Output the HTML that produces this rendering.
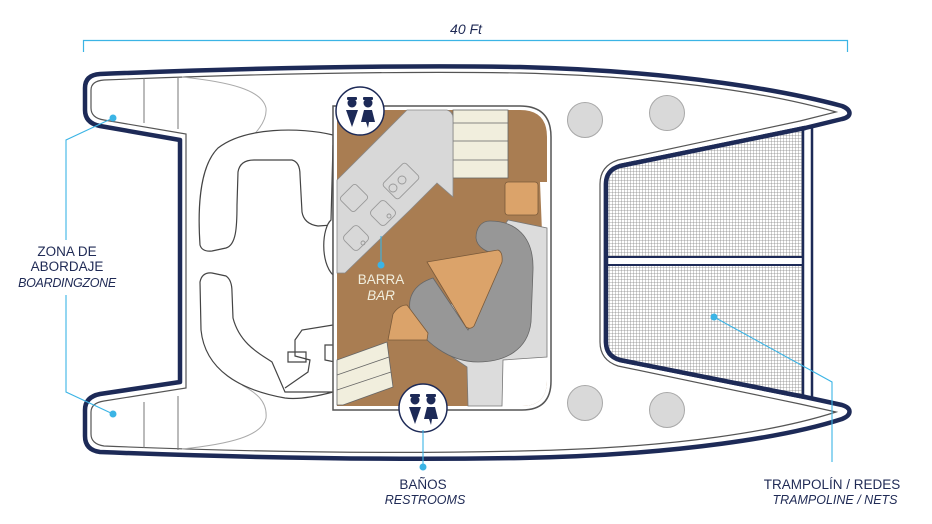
<!DOCTYPE html>
<html><head><meta charset="utf-8"><style>
html,body{margin:0;padding:0;background:#fff;}
svg{display:block;}
text{font-family:"Liberation Sans",sans-serif;}
</style></head><body>
<svg width="932" height="524" viewBox="0 0 932 524" xmlns="http://www.w3.org/2000/svg">
<defs>
<pattern id="mesh" width="3" height="3" patternUnits="userSpaceOnUse">
<rect width="3" height="3" fill="#fff"/>
<path d="M0 0H3M0 0V3" stroke="#888" stroke-width="0.8"/>
</pattern>
</defs>
<!-- dimension -->
<path d="M83.5 52V40.5H847.5V52" fill="none" stroke="#3bb4e5" stroke-width="1.2"/>
<text x="466" y="34" font-size="14" font-style="italic" fill="#1f2a55" text-anchor="middle">40 Ft</text>

<!-- hull outer -->
<path id="hull" d="M100 74 C250 68 390 65 520 67 C680 71 790 92 842 106 C852 110 852 117 842 119 L805 128 L620 166 Q606 170 606 184 L606 342 Q606 356 620 360 L805 397 L842 405 C852 408 852 415 842 419 C790 436 680 455 520 458 C390 460 250 458 100 452 Q85 450 85 436 L85 410 Q85 397 100 394 L180 382 L180 140 L100 126 Q85 123 85 110 L85 88 Q85 75 100 74 Z" fill="#fff" stroke="#1d2a57" stroke-width="4.5" stroke-linejoin="round"/>
<!-- hull inner gray -->
<path d="M104 80 C250 74 390 71 520 73 C680 77 780 96 836 112 L800 121 L618 160 Q600 166 600 184 L600 342 Q600 360 618 366 L800 404 L836 412 C780 430 680 448 520 451 C390 454 250 452 104 446 Q91 444 91 434 L91 412 Q91 403 104 401 L186 388 L186 134 L104 120 Q91 118 91 108 L91 90 Q91 81 104 80 Z" fill="none" stroke="#555" stroke-width="1.2"/>
<!-- lobe lines -->
<path d="M144 78V123M178 77V129M144 402V448M178 396V450" stroke="#777" stroke-width="1"/>
<!-- cockpit light lines -->
<path d="M182 77 C230 82 262 90 266 108 C268 128 240 150 212 165" fill="none" stroke="#aaa" stroke-width="1"/>
<path d="M182 449 C230 444 262 436 266 418 C268 398 250 390 242 385" fill="none" stroke="#aaa" stroke-width="1"/>

<!-- trampoline -->
<path d="M620 166 L803 128 L803 397 L620 360 Q606 356 606 342 L606 184 Q606 170 620 166 Z" fill="url(#mesh)"/>
<rect x="607" y="257" width="196" height="8" fill="#fff" stroke="#1d2a57" stroke-width="2"/>
<path d="M803 128V397M812 127V399" stroke="#1d2a57" stroke-width="2.5"/>
<path d="M805 128 L620 166 Q606 170 606 184 L606 342 Q606 356 620 360 L805 397" fill="none" stroke="#1d2a57" stroke-width="4.5" stroke-linejoin="round"/>

<!-- circles -->
<g fill="#d9d9d9" stroke="#a8a8a8" stroke-width="1">
<circle cx="585" cy="120" r="17.5"/><circle cx="667" cy="113" r="17.5"/>
<circle cx="585" cy="403" r="17.5"/><circle cx="667" cy="410" r="17.5"/>
</g>

<!-- cockpit seating -->
<g fill="#fff" stroke="#444" stroke-width="1.2">
<path d="M333 135 C300 127 245 127 218 148 C198 168 198 215 200 245 Q202 252 212 251 L226 248 C236 245 237 228 237 205 L238 172 Q240 160 254 160 L292 160 Q300 162 300 175 L302 212 Q304 224 318 226 L333 225 Z"/>
<path d="M200 282 Q202 272 212 273 L226 276 Q232 280 232 292 L233 318 C240 345 262 355 272 362 L285 392 L333 392 C318 396 300 400 285 398 C240 390 205 370 201 330 Z"/>
<path d="M333 145 L331 220 C322 228 320 262 333 275 Z" fill="#fff"/>
<path d="M333 325 L302 330 L295 340 L295 356 L310 360 L308 372 L285 388 M288 352 L306 352 L306 362 L288 362 Z" fill="none"/>
<path d="M325 345 L335 345 L335 362 L325 360 Z"/>
</g>

<!-- cabin -->
<path d="M333 106 H520 Q551 106 551 137 V381 Q551 410 522 410 H333 Z" fill="#fff" stroke="#555" stroke-width="1.5"/>
<path d="M337 110 H520 Q547 110 547 137 V380 Q547 406 522 406 H337 Z" fill="#a97d52"/>
<rect x="453" y="110" width="55" height="68" fill="#f1eedd" stroke="#666" stroke-width="0.8"/>
<path d="M453 123H508M453 141H508M453 160H508" stroke="#666" stroke-width="0.8"/>
<path d="M540 182 H547 V380 Q547 406 522 406 H502 V360 L547 357 Z" fill="#fff"/>
<path d="M508 220 L547 228 L547 357 L503 360 L502 406 L468 406 L467 367 L427 340 Z" fill="#dcdcdc" stroke="#777" stroke-width="0.8"/>
<path d="M337 180 L407 110 L447 110 Q453 112 453 118 L453 197 L437 183 L410 210 L345 273 L337 273 Z" fill="#d8d8d8" stroke="#888" stroke-width="0.8"/>
<g fill="none" stroke="#999" stroke-width="0.9">
<rect x="343" y="188" width="22" height="20" rx="3" transform="rotate(-45 354 198)"/>
<rect x="373" y="203" width="20" height="20" rx="4" transform="rotate(-45 383 213)"/>
<rect x="346" y="228" width="20" height="20" rx="4" transform="rotate(-45 356 238)"/>
<rect x="385" y="170" width="32" height="22" rx="3" transform="rotate(-45 401 181)"/>
<circle cx="393" cy="188" r="4"/><circle cx="402" cy="180" r="4"/>
<circle cx="389" cy="216" r="2"/><circle cx="363" cy="243" r="2"/>
</g>
<rect x="505" y="182" width="33" height="33" rx="3" fill="#dba36a" stroke="#7a5a3a" stroke-width="0.8"/>
<path d="M490 221 C515 221 534 236 533 270 L531 322 C528 350 505 362 478 362 C450 362 422 342 412 318 C405 298 414 284 433 278 L468 330 L500 256 C487 252 477 248 476 238 C476 227 482 221 490 221 Z" fill="#979797" stroke="#666" stroke-width="0.8"/>
<path d="M427 262 L498 250 Q503 252 502 262 L474 326 Q470 330 466 327 Z" fill="#dba36a" stroke="#7a5a3a" stroke-width="0.8"/>
<path d="M388 340 L393 314 Q399 305 407 305 L428 333 L427 340 Z" fill="#dba36a" stroke="#7a5a3a" stroke-width="0.8"/>
<path d="M337 360 L387 342 L393 387 L343 405 L337 405 Z" fill="#f1eedd" stroke="#666" stroke-width="0.8"/>
<path d="M337 375 L389 357 M337 390 L391 372" stroke="#666" stroke-width="0.8"/>

<!-- restroom icons -->
<g>
<circle cx="360" cy="111" r="24" fill="#fff" stroke="#1d2a57" stroke-width="1.5"/>
<g fill="#1d2a57">
<circle cx="352" cy="103" r="4.5"/><rect x="347" y="97" width="10" height="3" rx="1"/>
<path d="M346 110 H358 L352 127 Z"/>
<circle cx="368" cy="103" r="4.5"/><rect x="363" y="97" width="10" height="3" rx="1"/>
<path d="M364 110 H372 L375 122 L369 122 L368 128 L366 122 L361 122 Z"/>
</g>
<circle cx="423" cy="408" r="24" fill="#fff" stroke="#1d2a57" stroke-width="1.5"/>
<g fill="#1d2a57">
<circle cx="415" cy="400" r="4.5"/><rect x="410" y="394" width="10" height="3" rx="1"/>
<path d="M409 407 H421 L415 424 Z"/>
<circle cx="431" cy="400" r="4.5"/><rect x="426" y="394" width="10" height="3" rx="1"/>
<path d="M427 407 H435 L438 419 L432 419 L431 425 L429 419 L424 419 Z"/>
</g>
</g>

<!-- callouts -->
<g stroke="#3bb4e5" stroke-width="1.1" fill="none">
<path d="M113 118 L66 140 V240 M66 295 V392 L113 414"/>
<path d="M381 236 V265"/>
<path d="M423 430 V467"/>
<path d="M714 317 L832 382 V462"/>
</g>
<g fill="#3bb4e5">
<circle cx="113" cy="118" r="3.5"/><circle cx="113" cy="414" r="3.5"/>
<circle cx="381" cy="265" r="3.5"/><circle cx="423" cy="467" r="3.5"/>
<circle cx="714" cy="317" r="3.5"/>
</g>

<g font-size="13.5" fill="#1f2a55" text-anchor="middle">
<text x="67" y="256">ZONA DE</text>
<text x="67" y="271">ABORDAJE</text>
<text x="67" y="287" font-style="italic" font-size="12.5" letter-spacing="-0.3">BOARDINGZONE</text>
<text x="423" y="489">BAÑOS</text>
<text x="425" y="504" font-style="italic" font-size="12.5">RESTROOMS</text>
<text x="832" y="489">TRAMPOLÍN / REDES</text>
<text x="835" y="504" font-style="italic" font-size="12.5">TRAMPOLINE / NETS</text>
</g>
<g font-size="13.5" fill="#f1eedd" text-anchor="middle">
<text x="381" y="284">BARRA</text>
<text x="381" y="300" font-style="italic">BAR</text>
</g>
</svg>
</body></html>
